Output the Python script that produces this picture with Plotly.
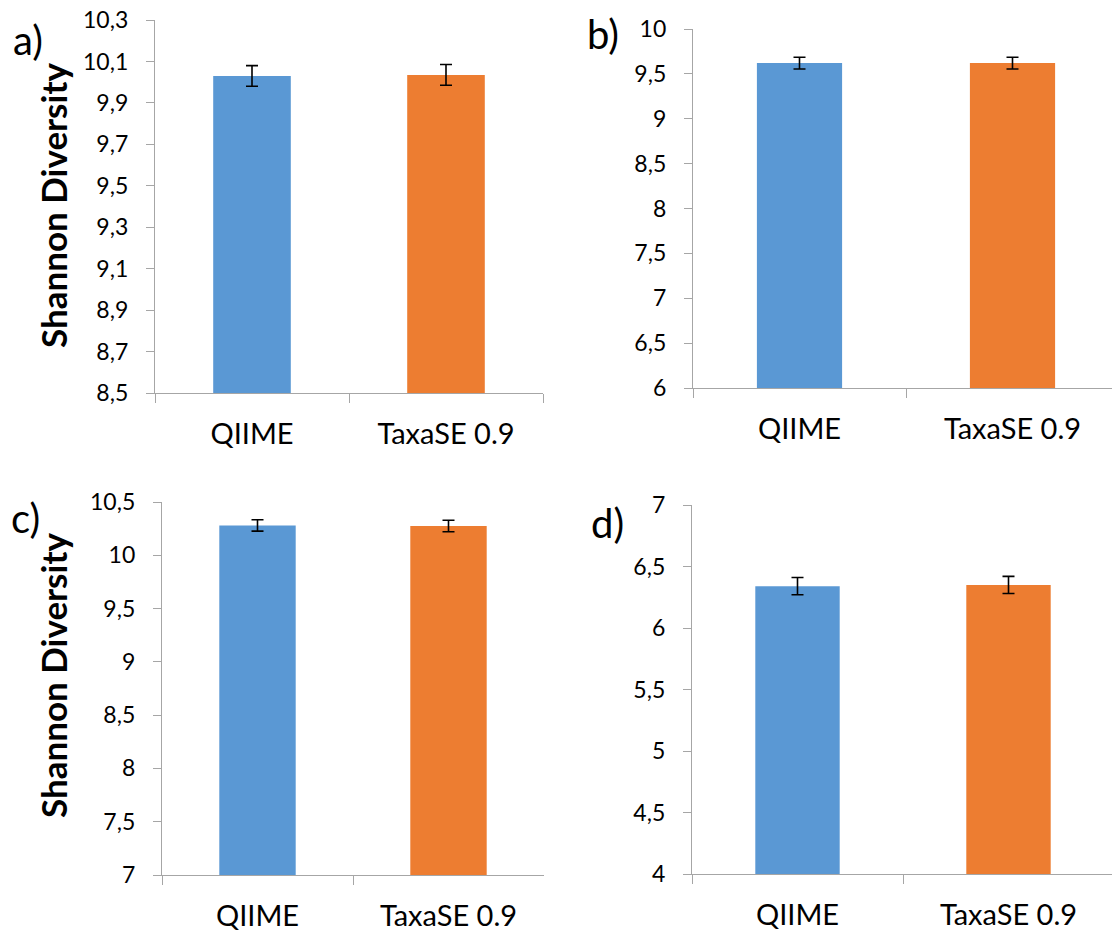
import plotly.graph_objects as go

categories = ["QIIME", "TaxaSE 0.9"]

values_a = [10.03, 10.035]
errors_a = [0.05, 0.05]
values_b = [9.62, 9.62]
errors_b = [0.065, 0.065]
values_c = [10.28, 10.275]
errors_c = [0.053, 0.054]
values_d = [6.34, 6.35]
errors_d = [0.07, 0.07]

bar_colors = ["#5a98d4", "#ed7d31"]

W, H = 1112, 931
FONT = "Lato"
AXIS_COLOR = "#a6a6a6"

panels = [
    dict(vals=values_a, errs=errors_a, x0=155, x1=543, y0=20, y1=393, yr=[8.5, 10.3], dtick=0.2, label="a)", lx=11, ly=14, title=True, ty=206),
    dict(vals=values_b, errs=errors_b, x0=693, x1=1119, y0=29, y1=388, yr=[6, 10], dtick=0.5, label="b)", lx=585, ly=8, title=False),
    dict(vals=values_c, errs=errors_c, x0=162, x1=544, y0=502, y1=875, yr=[7, 10.5], dtick=0.5, label="c)", lx=9, ly=492, title=True, ty=676),
    dict(vals=values_d, errs=errors_d, x0=692, x1=1114, y0=505, y1=874, yr=[4, 7], dtick=0.5, label="d)", lx=589, ly=497, title=False),
]

fig = go.Figure()
annotations = []

for i, p in enumerate(panels, start=1):
    xa = "x" if i == 1 else f"x{i}"
    ya = "y" if i == 1 else f"y{i}"
    fig.add_trace(go.Bar(
        x=categories, y=p["vals"], width=0.4,
        marker=dict(color=bar_colors, line=dict(width=0)),
        error_y=dict(type="data", array=p["errs"], visible=True, color="#000000", thickness=1.6, width=6),
        xaxis=xa, yaxis=ya, showlegend=False, hoverinfo="skip",
    ))
    full_w = p["x1"] - p["x0"]
    vis_right = min(p["x1"], W)
    frac = (vis_right - p["x0"]) / full_w
    xr = [-0.5, -0.5 + 2 * frac]
    xkey = "xaxis" if i == 1 else f"xaxis{i}"
    ykey = "yaxis" if i == 1 else f"yaxis{i}"
    fig.update_layout({
        xkey: dict(
            domain=[p["x0"] / W, vis_right / W], anchor=ya, type="category",
            range=xr, showline=True, linecolor=AXIS_COLOR, linewidth=1.3,
            ticks="outside", tickson="boundaries", ticklen=9, tickcolor=AXIS_COLOR, tickwidth=1.3,
            showgrid=False, zeroline=False, ticklabelstandoff=15, automargin=False,
            tickfont=dict(family=FONT, size=29, color="#000000"),
        ),
        ykey: dict(
            domain=[1 - p["y1"] / H, 1 - p["y0"] / H], anchor=xa,
            range=p["yr"], tick0=p["yr"][0], dtick=p["dtick"],
            showline=True, linecolor=AXIS_COLOR, linewidth=1.3,
            ticks="outside", ticklen=8, tickcolor=AXIS_COLOR, tickwidth=1.3,
            showgrid=False, zeroline=False, ticklabelstandoff=13, automargin=False,
            tickfont=dict(family=FONT, size=23, color="#000000"),
        ),
    })
    annotations.append(dict(
        text=p["label"], x=p["lx"] / W, y=1 - p["ly"] / H, xref="paper", yref="paper",
        xanchor="left", yanchor="top", showarrow=False,
        font=dict(family=FONT, size=40, color="#000000"),
    ))
    if p["title"]:
        annotations.append(dict(
            text="<b>Shannon Diversity</b>", x=53 / W, y=1 - p["ty"] / H, xref="paper", yref="paper",
            xanchor="center", yanchor="middle", textangle=-90, showarrow=False,
            font=dict(family=FONT, size=35, color="#000000"),
        ))

fig.update_layout(
    width=W, height=H, margin=dict(l=0, r=0, t=0, b=0, autoexpand=False),
    paper_bgcolor="white", plot_bgcolor="white",
    separators=", ", annotations=annotations,
)

fig.write_html("out.html")
